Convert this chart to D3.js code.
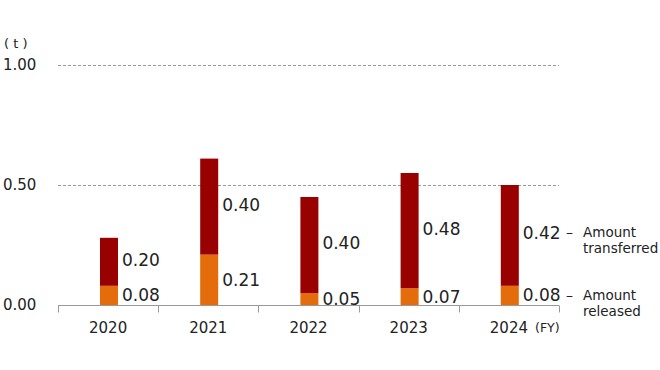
<!DOCTYPE html>
<html>
<head>
<meta charset="utf-8">
<script src="https://cdn.jsdelivr.net/npm/d3@7"></script>
<style>
  body { margin: 0; background: #fff; }
  text { font-family: "DejaVu Sans", Verdana, sans-serif; fill: #222; }
</style>
</head>
<body>
<div id="chart"></div>
<script>
  var years = ['2020', '2021', '2022', '2023', '2024'];
  var released = [0.08, 0.21, 0.05, 0.07, 0.08];
  var transferred = [0.20, 0.40, 0.40, 0.48, 0.42];
  var yTicks = [0, 0.5, 1.0];

  var width = 660, height = 370;
  var colors = { released: '#e46c0a', transferred: '#990000' };

  var svg = d3.select('#chart').append('svg')
    .attr('width', width).attr('height', height);

  var x = d3.scaleBand().domain(years).range([58, 559]);
  var y = d3.scaleLinear().domain([0, 1]).range([305, 65]);
  var barW = 18;

  // grid lines
  svg.selectAll('line.grid').data(yTicks.filter(function(d) { return d > 0; }))
    .enter().append('line')
    .attr('class', 'grid')
    .attr('x1', 58).attr('x2', 559)
    .attr('y1', function(d) { return y(d) + 0.5; })
    .attr('y2', function(d) { return y(d) + 0.5; })
    .attr('stroke', '#999').attr('stroke-dasharray', '3,2');

  // y labels
  svg.selectAll('text.ytick').data(yTicks).enter().append('text')
    .attr('x', 3)
    .attr('y', function(d) { return y(d); })
    .attr('dy', '0.35em')
    .style('font-size', '15px')
    .text(function(d) { return d.toFixed(2); });

  svg.append('text').attr('x', 4).attr('y', 48)
    .style('font-size', '13px').text('( t )');

  // bars
  var data = years.map(function(yr, i) {
    return { year: yr, rel: released[i], tr: transferred[i] };
  });

  var g = svg.selectAll('g.bar').data(data).enter().append('g')
    .attr('class', 'bar')
    .attr('transform', function(d) { return 'translate(' + (x(d.year) + 42) + ',0)'; });

  g.append('rect')
    .attr('x', 0).attr('width', barW)
    .attr('y', function(d) { return y(d.rel); })
    .attr('height', function(d) { return y(0) - y(d.rel); })
    .attr('fill', colors.released);

  g.append('rect')
    .attr('x', 0).attr('width', barW)
    .attr('y', function(d) { return y(d.rel + d.tr); })
    .attr('height', function(d) { return y(d.rel) - y(d.rel + d.tr); })
    .attr('fill', colors.transferred);

  g.append('text')
    .attr('x', barW + 4)
    .attr('y', function(d) { return (y(0) + y(d.rel)) / 2; })
    .attr('dy', '0.35em')
    .style('font-size', '17px')
    .text(function(d) { return d.rel.toFixed(2); });

  g.append('text')
    .attr('x', barW + 4)
    .attr('y', function(d) { return (y(d.rel) + y(d.rel + d.tr)) / 2 - 2; })
    .attr('dy', '0.35em')
    .style('font-size', '17px')
    .text(function(d) { return d.tr.toFixed(2); });

  // x axis
  var axis = svg.append('g').attr('transform', 'translate(0,' + 305.5 + ')');
  axis.append('line').attr('x1', 58).attr('x2', 559).attr('stroke', '#999');
  var bounds = [58].concat(years.map(function(d) { return x(d) + x.bandwidth(); }));
  axis.selectAll('line.tick').data(bounds).enter().append('line')
    .attr('x1', function(d) { return Math.round(d) + 0.5; })
    .attr('x2', function(d) { return Math.round(d) + 0.5; })
    .attr('y1', 0).attr('y2', 7).attr('stroke', '#999');
  axis.selectAll('text').data(years).enter().append('text')
    .attr('x', function(d) { return x(d) + x.bandwidth() / 2; })
    .attr('y', 27)
    .attr('text-anchor', 'middle')
    .style('font-size', '15px')
    .text(function(d) { return d; });
  axis.append('text').attr('x', 535).attr('y', 26)
    .style('font-size', '12.5px').text('(FY)');

  // legend labels next to last bar
  var last = data[data.length - 1];
  var legend = [
    { lines: ['Amount', 'transferred'], y: (y(last.rel) + y(last.rel + last.tr)) / 2 - 3 },
    { lines: ['Amount', 'released'], y: (y(0) + y(last.rel)) / 2 }
  ];
  var lg = svg.selectAll('g.legend').data(legend).enter().append('g')
    .attr('transform', function(d) { return 'translate(0,' + d.y + ')'; });
  lg.append('text').attr('x', 566).attr('dy', '0.35em')
    .style('font-size', '14px').text('–');
  lg.each(function(d) {
    var t = d3.select(this).append('text').attr('x', 583).attr('dy', '0.35em')
      .style('font-size', '13.5px');
    d.lines.forEach(function(l, i) {
      t.append('tspan').attr('x', 583).attr('dy', i === 0 ? '0.35em' : '16').text(l);
    });
  });
</script>
</body>
</html>
